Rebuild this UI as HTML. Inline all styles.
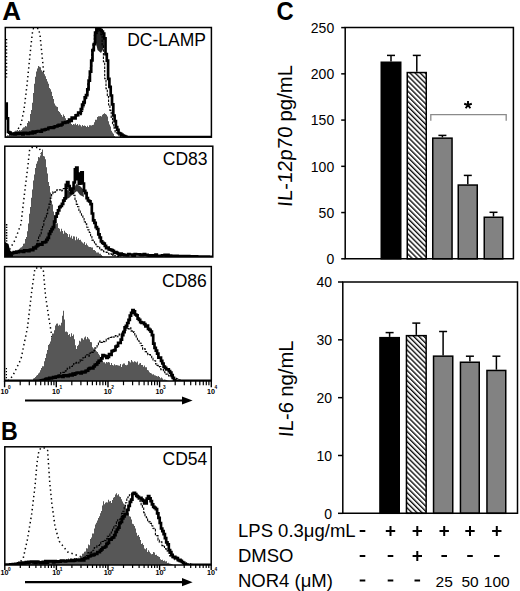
<!DOCTYPE html>
<html><head><meta charset="utf-8"><style>
html,body{margin:0;padding:0;background:#fff;width:520px;height:591px;overflow:hidden;position:relative;font-family:"Liberation Sans", sans-serif;}
</style></head><body>
<svg width="520" height="591" viewBox="0 0 520 591" style="position:absolute;left:0;top:0"><defs><pattern id="hatch" patternUnits="userSpaceOnUse" width="3.6" height="3.6" patternTransform="rotate(-45)"><rect width="3.6" height="3.6" fill="#fff"/><line x1="0.7" y1="0" x2="0.7" y2="3.6" stroke="#000" stroke-width="1.3"/></pattern></defs><clipPath id="ch1"><rect x="5.3" y="27.5" width="206.1" height="109.69999999999999"/></clipPath><g clip-path="url(#ch1)"><polyline points="12.0,135.0 17.0,131.0 21.0,124.0 24.0,110.0 27.0,85.0 29.0,65.0 31.0,45.0 32.5,32.0 33.5,28.5 38.5,28.5 40.0,35.0 42.0,55.0 44.0,75.0 46.0,92.0 49.0,108.0 53.0,120.0 58.0,129.0 66.0,134.0 80.0,137.1" fill="none" stroke="#000" stroke-width="1.5" stroke-dasharray="1.4 3.0"/><polygon points="5.3,137.1 5.0,136.8 6.0,136.8 6.0,136.3 7.0,136.3 7.0,135.3 8.0,135.3 8.0,135.5 9.0,135.5 9.0,133.5 10.0,133.5 10.0,135.3 11.0,135.3 11.0,134.4 12.0,134.4 12.0,134.3 13.0,134.3 13.0,132.1 14.0,132.1 14.0,131.5 15.0,131.5 15.0,130.8 16.0,130.8 16.0,130.7 17.0,130.7 17.0,129.9 18.0,129.9 18.0,131.1 19.0,131.1 19.0,129.9 20.0,129.9 20.0,130.5 21.0,130.5 21.0,129.9 22.0,129.9 22.0,128.4 23.0,128.4 23.0,127.4 24.0,127.4 24.0,127.3 25.0,127.3 25.0,125.9 26.0,125.9 26.0,126.5 27.0,126.5 27.0,123.1 28.0,123.1 28.0,120.9 29.0,120.9 29.0,121.6 30.0,121.6 30.0,114.1 31.0,114.1 31.0,109.9 32.0,109.9 32.0,102.7 33.0,102.7 33.0,92.9 34.0,92.9 34.0,83.7 35.0,83.7 35.0,76.8 36.0,76.8 36.0,71.5 37.0,71.5 37.0,68.4 38.0,68.4 38.0,65.9 39.0,65.9 39.0,66.7 40.0,66.7 40.0,67.2 41.0,67.2 41.0,70.2 42.0,70.2 42.0,71.8 43.0,71.8 43.0,72.0 44.0,72.0 44.0,74.2 45.0,74.2 45.0,76.3 46.0,76.3 46.0,78.9 47.0,78.9 47.0,81.4 48.0,81.4 48.0,83.8 49.0,83.8 49.0,88.1 50.0,88.1 50.0,89.2 51.0,89.2 51.0,91.7 52.0,91.7 52.0,95.9 53.0,95.9 53.0,98.9 54.0,98.9 54.0,103.6 55.0,103.6 55.0,105.6 56.0,105.6 56.0,106.4 57.0,106.4 57.0,107.0 58.0,107.0 58.0,111.0 59.0,111.0 59.0,111.9 60.0,111.9 60.0,113.4 61.0,113.4 61.0,115.0 62.0,115.0 62.0,116.7 63.0,116.7 63.0,114.5 64.0,114.5 64.0,116.1 65.0,116.1 65.0,118.3 66.0,118.3 66.0,120.2 67.0,120.2 67.0,120.3 68.0,120.3 68.0,121.0 69.0,121.0 69.0,120.9 70.0,120.9 70.0,121.3 71.0,121.3 71.0,124.1 72.0,124.1 72.0,125.1 73.0,125.1 73.0,124.1 74.0,124.1 74.0,124.4 75.0,124.4 75.0,123.4 76.0,123.4 76.0,125.1 77.0,125.1 77.0,124.0 78.0,124.0 78.0,125.4 79.0,125.4 79.0,124.5 80.0,124.5 80.0,125.2 81.0,125.2 81.0,126.6 82.0,126.6 82.0,125.1 83.0,125.1 83.0,125.9 84.0,125.9 84.0,125.4 85.0,125.4 85.0,125.9 86.0,125.9 86.0,126.9 87.0,126.9 87.0,125.7 88.0,125.7 88.0,127.0 89.0,127.0 89.0,125.2 90.0,125.2 90.0,125.2 91.0,125.2 91.0,125.6 92.0,125.6 92.0,125.1 93.0,125.1 93.0,124.8 94.0,124.8 94.0,122.2 95.0,122.2 95.0,119.8 96.0,119.8 96.0,119.8 97.0,119.8 97.0,117.0 98.0,117.0 98.0,116.3 99.0,116.3 99.0,116.3 100.0,116.3 100.0,116.1 101.0,116.1 101.0,116.4 102.0,116.4 102.0,114.8 103.0,114.8 103.0,114.1 104.0,114.1 104.0,113.3 105.0,113.3 105.0,113.9 106.0,113.9 106.0,114.8 107.0,114.8 107.0,116.4 108.0,116.4 108.0,121.2 109.0,121.2 109.0,124.5 110.0,124.5 110.0,126.6 111.0,126.6 111.0,130.8 112.0,130.8 112.0,132.4 113.0,132.4 113.0,133.8 114.0,133.8 114.0,136.1 115.0,136.1 115.0,137.1 116.0,137.1 116.0,137.1 117.0,137.1 117.0,137.1 118.0,137.1 118.0,137.1 119.0,137.1 119.0,137.1 120.0,137.1 120.0,137.1 121.0,137.1 121.0,137.1 122.0,137.1 122.0,137.1 123.0,137.1 123.0,137.1 124.0,137.1 124.0,137.1 125.0,137.1 125.0,137.1 126.0,137.1 126.0,137.1 127.0,137.1 127.0,137.1 128.0,137.1 128.0,137.1 129.0,137.1 129.0,137.1 130.0,137.1 130.0,137.1 131.0,137.1 131.0,137.1 132.0,137.1 132.0,137.1 133.0,137.1 133.0,137.1 134.0,137.1 134.0,137.1 135.0,137.1 135.0,137.1 136.0,137.1 136.0,137.1 137.0,137.1 137.0,137.1 138.0,137.1 138.0,137.1 139.0,137.1 139.0,137.1 140.0,137.1 140.0,137.1 141.0,137.1 141.0,137.1 142.0,137.1 142.0,137.1 143.0,137.1 143.0,137.1 144.0,137.1 144.0,137.1 145.0,137.1 145.0,137.1 146.0,137.1 146.0,137.1 147.0,137.1 147.0,137.1 148.0,137.1 148.0,137.1 149.0,137.1 149.0,137.1 150.0,137.1 150.0,137.1 151.0,137.1 151.0,137.1 152.0,137.1 152.0,137.1 153.0,137.1 153.0,137.1 154.0,137.1 154.0,137.1 155.0,137.1 155.0,137.1 156.0,137.1 156.0,137.1 157.0,137.1 157.0,137.1 158.0,137.1 158.0,137.1 159.0,137.1 159.0,137.1 160.0,137.1 160.0,137.1 161.0,137.1 161.0,137.1 162.0,137.1 162.0,137.1 163.0,137.1 163.0,137.1 164.0,137.1 164.0,137.1 165.0,137.1 165.0,137.1 166.0,137.1 166.0,137.1 167.0,137.1 167.0,137.1 168.0,137.1 168.0,137.1 169.0,137.1 169.0,137.1 170.0,137.1 170.0,137.1 171.0,137.1 171.0,137.1 172.0,137.1 172.0,137.1 173.0,137.1 173.0,137.1 174.0,137.1 174.0,137.1 175.0,137.1 175.0,137.1 176.0,137.1 176.0,137.1 177.0,137.1 177.0,137.1 178.0,137.1 178.0,137.1 179.0,137.1 179.0,137.1 180.0,137.1 180.0,137.1 181.0,137.1 181.0,137.1 182.0,137.1 182.0,137.1 183.0,137.1 183.0,137.1 184.0,137.1 184.0,137.1 185.0,137.1 185.0,137.1 186.0,137.1 186.0,137.1 187.0,137.1 187.0,137.1 188.0,137.1 188.0,137.1 189.0,137.1 189.0,137.1 190.0,137.1 190.0,137.1 191.0,137.1 191.0,137.1 192.0,137.1 192.0,137.1 193.0,137.1 193.0,137.1 194.0,137.1 194.0,137.1 195.0,137.1 195.0,137.1 196.0,137.1 196.0,137.1 197.0,137.1 197.0,137.1 198.0,137.1 198.0,137.1 199.0,137.1 199.0,137.1 200.0,137.1 200.0,137.1 201.0,137.1 201.0,137.1 202.0,137.1 202.0,137.1 203.0,137.1 203.0,137.1 204.0,137.1 204.0,137.1 205.0,137.1 205.0,137.1 206.0,137.1 206.0,137.1 207.0,137.1 207.0,137.1 208.0,137.1 208.0,137.1 209.0,137.1 209.0,137.1 210.0,137.1 210.0,137.1 211.0,137.1 211.0,137.1 212.0,137.1 212.0,137.1 213.0,137.1 211.4,137.1" fill="#575757"/><polyline points="80.0,114.6 81.3,114.6 81.3,111.4 82.6,111.4 82.6,107.8 83.9,107.8 83.9,103.6 85.2,103.6 85.2,98.6 86.5,98.6 86.5,94.1 87.8,94.1 87.8,83.9 89.1,83.9 89.1,76.9 90.4,76.9 90.4,66.3 91.7,66.3 91.7,50.1 93.0,50.1 93.0,43.4 94.3,43.4 94.3,35.3 95.6,35.3 95.6,33.8 96.9,33.8 96.9,31.1 98.2,31.1 98.2,30.7 99.5,30.7 99.5,30.8 100.8,30.8 100.8,34.6 102.1,34.6 102.1,45.8 103.4,45.8 103.4,61.8 104.7,61.8 104.7,78.8 106.0,78.8 106.0,88.8 107.3,88.8 107.3,96.6 108.6,96.6 108.6,105.0 109.9,105.0 109.9,110.4 111.2,110.4 111.2,118.3 112.5,118.3 112.5,123.8 113.8,123.8 113.8,127.9 115.1,127.9 115.1,132.8 116.4,132.8 116.4,133.0 117.7,133.0 117.7,134.2 119.0,134.2 119.0,136.5 120.3,136.5 120.3,137.1 121.6,137.1 121.6,137.1 122.9,137.1 122.9,137.1 124.2,137.1 124.2,137.1 125.5,137.1 125.5,137.1 126.8,137.1 126.8,137.1 128.1,137.1 128.1,137.1 129.4,137.1 129.4,137.1 130.7,137.1 130.7,137.1 132.0,137.1 132.0,137.1 133.3,137.1 133.3,137.1 134.6,137.1 134.6,137.1 135.9,137.1 135.9,137.1 137.2,137.1 137.2,137.1 138.5,137.1 138.5,137.1 139.8,137.1 139.8,137.1 141.1,137.1" fill="none" stroke="#000" stroke-width="1.1" stroke-dasharray="2.5 1.2"/><polyline points="5.4,103.5 6.7,103.5 6.7,118.4 8.0,118.4 8.0,132.0 9.3,132.0 9.3,132.7 10.6,132.7 10.6,134.2 11.9,134.2 11.9,134.2 13.2,134.2 13.2,133.6 14.5,133.6 14.5,134.3 15.8,134.3 15.8,133.4 17.1,133.4 17.1,134.0 18.4,134.0 18.4,133.3 19.7,133.3 19.7,133.2 21.0,133.2 21.0,133.7 22.3,133.7 22.3,134.3 23.6,134.3 23.6,132.9 24.9,132.9 24.9,132.9 26.2,132.9 26.2,133.5 27.5,133.5 27.5,134.0 28.8,134.0 28.8,133.2 30.1,133.2 30.1,132.7 31.4,132.7 31.4,133.5 32.7,133.5 32.7,131.7 34.0,131.7 34.0,132.9 35.3,132.9 35.3,131.7 36.6,131.7 36.6,131.3 37.9,131.3 37.9,131.0 39.2,131.0 39.2,131.2 40.5,131.2 40.5,131.6 41.8,131.6 41.8,129.9 43.1,129.9 43.1,130.1 44.4,130.1 44.4,129.7 45.7,129.7 45.7,129.0 47.0,129.0 47.0,129.1 48.3,129.1 48.3,127.9 49.6,127.9 49.6,127.6 50.9,127.6 50.9,127.4 52.2,127.4 52.2,128.0 53.5,128.0 53.5,127.1 54.8,127.1 54.8,126.4 56.1,126.4 56.1,126.5 57.4,126.5 57.4,125.7 58.7,125.7 58.7,124.8 60.0,124.8 60.0,125.4 61.3,125.4 61.3,124.5 62.6,124.5 62.6,122.7 63.9,122.7 63.9,122.9 65.2,122.9 65.2,122.1 66.5,122.1 66.5,122.4 67.8,122.4 67.8,121.4 69.1,121.4 69.1,119.5 70.4,119.5 70.4,120.8 71.7,120.8 71.7,117.7 73.0,117.7 73.0,117.9 74.3,117.9 74.3,118.3 75.6,118.3 75.6,115.3 76.9,115.3 76.9,115.2 78.2,115.2 78.2,112.7 79.5,112.7 79.5,113.0 80.8,113.0 80.8,109.2 82.1,109.2 82.1,104.6 83.4,104.6 83.4,102.2 84.7,102.2 84.7,97.3 86.0,97.3 86.0,95.2 87.3,95.2 87.3,89.3 88.6,89.3 88.6,80.7 89.9,80.7 89.9,71.7 91.2,71.7 91.2,60.5 92.5,60.5 92.5,50.1 93.8,50.1 93.8,44.1 95.1,44.1 95.1,32.7 96.4,32.7 96.4,27.2 97.7,27.2 97.7,29.1 99.0,29.1 99.0,28.9 100.3,28.9 100.3,30.0 101.6,30.0 101.6,31.5 102.9,31.5 102.9,33.5 104.2,33.5 104.2,38.4 105.5,38.4 105.5,54.1 106.8,54.1 106.8,60.6 108.1,60.6 108.1,78.9 109.4,78.9 109.4,86.8 110.7,86.8 110.7,95.5 112.0,95.5 112.0,104.4 113.3,104.4 113.3,115.5 114.6,115.5 114.6,121.2 115.9,121.2 115.9,127.0 117.2,127.0 117.2,129.8 118.5,129.8 118.5,133.1 119.8,133.1 119.8,133.5 121.1,133.5 121.1,134.7 122.4,134.7 122.4,135.5 123.7,135.5 123.7,136.1 125.0,136.1 125.0,136.7 126.3,136.7 126.3,137.1 127.6,137.1 127.6,137.1 128.9,137.1 128.9,137.1 130.2,137.1 130.2,137.1 131.5,137.1 131.5,137.1 132.8,137.1 132.8,137.1 134.1,137.1 134.1,137.1 135.4,137.1 135.4,137.1 136.7,137.1 136.7,137.1 138.0,137.1 138.0,137.1 139.3,137.1 139.3,137.1 140.6,137.1 140.6,137.1 141.9,137.1 141.9,137.1 143.2,137.1 143.2,137.1 144.5,137.1 144.5,137.1 145.8,137.1 145.8,137.1 147.1,137.1 147.1,137.1 148.4,137.1 148.4,137.1 149.7,137.1 149.7,137.1 151.0,137.1 151.0,137.1 152.3,137.1 152.3,137.1 153.6,137.1 153.6,137.1 154.9,137.1 154.9,137.1 156.2,137.1 156.2,137.1 157.5,137.1 157.5,137.1 158.8,137.1 158.8,137.1 160.1,137.1 160.1,137.1 161.4,137.1 161.4,137.1 162.7,137.1 162.7,137.1 164.0,137.1 164.0,137.1 165.3,137.1 165.3,137.1 166.6,137.1 166.6,137.1 167.9,137.1 167.9,137.1 169.2,137.1 169.2,137.1 170.5,137.1 170.5,137.1 171.8,137.1 171.8,137.1 173.1,137.1 173.1,137.1 174.4,137.1 174.4,137.1 175.7,137.1 175.7,137.1 177.0,137.1 177.0,137.1 178.3,137.1 178.3,137.1 179.6,137.1 179.6,137.1 180.9,137.1 180.9,137.1 182.2,137.1 182.2,137.1 183.5,137.1 183.5,137.1 184.8,137.1 184.8,137.1 186.1,137.1 186.1,137.1 187.4,137.1 187.4,137.1 188.7,137.1 188.7,137.1 190.0,137.1 190.0,137.1 191.3,137.1 191.3,137.1 192.6,137.1 192.6,137.1 193.9,137.1 193.9,137.1 195.2,137.1 195.2,137.1 196.5,137.1 196.5,137.1 197.8,137.1 197.8,137.1 199.1,137.1 199.1,137.1 200.4,137.1 200.4,137.1 201.7,137.1 201.7,137.1 203.0,137.1 203.0,137.1 204.3,137.1 204.3,137.1 205.6,137.1 205.6,137.1 206.9,137.1 206.9,137.1 208.2,137.1 208.2,137.1 209.5,137.1 209.5,137.1 210.8,137.1 210.8,137.1 212.1,137.1 212.1,137.1 213.4,137.1" fill="none" stroke="#000" stroke-width="2.7" stroke-linejoin="miter"/></g><rect x="5.3" y="27.5" width="206.1" height="109.69999999999999" fill="none" stroke="#000" stroke-width="1.5"/><text x='127.2' y='45.6' font-family='Liberation Sans, sans-serif' font-size='17.5' fill='#000'>DC-LAMP</text><clipPath id="ch2"><rect x="4.8" y="146.2" width="208.0" height="110.80000000000001"/></clipPath><g clip-path="url(#ch2)"><polyline points="7.0,253.0 9.5,249.8 15.0,240.0 21.0,224.0 25.4,186.0 28.0,165.0 29.6,150.0 31.7,147.5 39.0,147.5 41.0,152.0 44.0,170.0 48.0,200.0 52.0,225.0 56.0,240.0 62.0,250.0 72.0,254.0 90.0,256.9" fill="none" stroke="#000" stroke-width="1.5" stroke-dasharray="1.4 3.0"/><polygon points="4.8,256.9 5.0,256.7 6.0,256.7 6.0,256.3 7.0,256.3 7.0,255.9 8.0,255.9 8.0,254.4 9.0,254.4 9.0,255.3 10.0,255.3 10.0,255.8 11.0,255.8 11.0,253.9 12.0,253.9 12.0,253.9 13.0,253.9 13.0,253.1 14.0,253.1 14.0,253.6 15.0,253.6 15.0,253.1 16.0,253.1 16.0,252.4 17.0,252.4 17.0,252.6 18.0,252.6 18.0,250.8 19.0,250.8 19.0,248.8 20.0,248.8 20.0,247.7 21.0,247.7 21.0,247.2 22.0,247.2 22.0,246.3 23.0,246.3 23.0,243.7 24.0,243.7 24.0,243.5 25.0,243.5 25.0,239.0 26.0,239.0 26.0,237.1 27.0,237.1 27.0,231.2 28.0,231.2 28.0,223.5 29.0,223.5 29.0,213.8 30.0,213.8 30.0,206.9 31.0,206.9 31.0,197.7 32.0,197.7 32.0,189.6 33.0,189.6 33.0,180.6 34.0,180.6 34.0,174.6 35.0,174.6 35.0,168.0 36.0,168.0 36.0,163.8 37.0,163.8 37.0,161.3 38.0,161.3 38.0,157.0 39.0,157.0 39.0,157.5 40.0,157.5 40.0,155.4 41.0,155.4 41.0,152.1 42.0,152.1 42.0,149.6 43.0,149.6 43.0,156.1 44.0,156.1 44.0,156.5 45.0,156.5 45.0,159.2 46.0,159.2 46.0,167.2 47.0,167.2 47.0,173.6 48.0,173.6 48.0,182.1 49.0,182.1 49.0,186.0 50.0,186.0 50.0,192.4 51.0,192.4 51.0,200.7 52.0,200.7 52.0,204.4 53.0,204.4 53.0,211.6 54.0,211.6 54.0,215.6 55.0,215.6 55.0,220.8 56.0,220.8 56.0,223.5 57.0,223.5 57.0,223.2 58.0,223.2 58.0,228.0 59.0,228.0 59.0,228.8 60.0,228.8 60.0,231.4 61.0,231.4 61.0,228.7 62.0,228.7 62.0,230.9 63.0,230.9 63.0,233.8 64.0,233.8 64.0,230.8 65.0,230.8 65.0,232.5 66.0,232.5 66.0,233.1 67.0,233.1 67.0,233.9 68.0,233.9 68.0,237.0 69.0,237.0 69.0,234.3 70.0,234.3 70.0,237.4 71.0,237.4 71.0,235.8 72.0,235.8 72.0,238.7 73.0,238.7 73.0,236.2 74.0,236.2 74.0,236.4 75.0,236.4 75.0,240.2 76.0,240.2 76.0,236.8 77.0,236.8 77.0,239.6 78.0,239.6 78.0,238.3 79.0,238.3 79.0,240.1 80.0,240.1 80.0,239.7 81.0,239.7 81.0,241.6 82.0,241.6 82.0,242.5 83.0,242.5 83.0,243.4 84.0,243.4 84.0,242.1 85.0,242.1 85.0,244.9 86.0,244.9 86.0,243.6 87.0,243.6 87.0,245.3 88.0,245.3 88.0,246.4 89.0,246.4 89.0,247.0 90.0,247.0 90.0,247.0 91.0,247.0 91.0,247.6 92.0,247.6 92.0,247.4 93.0,247.4 93.0,249.9 94.0,249.9 94.0,249.9 95.0,249.9 95.0,251.1 96.0,251.1 96.0,252.4 97.0,252.4 97.0,252.6 98.0,252.6 98.0,252.4 99.0,252.4 99.0,253.7 100.0,253.7 100.0,253.8 101.0,253.8 101.0,254.9 102.0,254.9 102.0,256.2 103.0,256.2 103.0,256.9 104.0,256.9 104.0,256.9 105.0,256.9 105.0,256.9 106.0,256.9 106.0,256.9 107.0,256.9 107.0,256.9 108.0,256.9 108.0,256.9 109.0,256.9 109.0,256.9 110.0,256.9 110.0,256.9 111.0,256.9 111.0,256.9 112.0,256.9 112.0,256.9 113.0,256.9 113.0,256.9 114.0,256.9 114.0,256.9 115.0,256.9 115.0,256.9 116.0,256.9 116.0,256.9 117.0,256.9 117.0,256.9 118.0,256.9 118.0,256.9 119.0,256.9 119.0,256.9 120.0,256.9 120.0,256.9 121.0,256.9 121.0,256.9 122.0,256.9 122.0,256.9 123.0,256.9 123.0,256.9 124.0,256.9 124.0,256.9 125.0,256.9 125.0,256.9 126.0,256.9 126.0,256.9 127.0,256.9 127.0,256.9 128.0,256.9 128.0,256.9 129.0,256.9 129.0,256.9 130.0,256.9 130.0,256.9 131.0,256.9 131.0,256.9 132.0,256.9 132.0,256.9 133.0,256.9 133.0,256.9 134.0,256.9 134.0,256.9 135.0,256.9 135.0,256.9 136.0,256.9 136.0,256.9 137.0,256.9 137.0,256.9 138.0,256.9 138.0,256.9 139.0,256.9 139.0,256.9 140.0,256.9 140.0,256.9 141.0,256.9 141.0,256.9 142.0,256.9 142.0,256.9 143.0,256.9 143.0,256.9 144.0,256.9 144.0,256.9 145.0,256.9 145.0,256.9 146.0,256.9 146.0,256.9 147.0,256.9 147.0,256.9 148.0,256.9 148.0,256.9 149.0,256.9 149.0,256.9 150.0,256.9 150.0,256.9 151.0,256.9 151.0,256.9 152.0,256.9 152.0,256.9 153.0,256.9 153.0,256.9 154.0,256.9 154.0,256.9 155.0,256.9 155.0,256.9 156.0,256.9 156.0,256.9 157.0,256.9 157.0,256.9 158.0,256.9 158.0,256.9 159.0,256.9 159.0,256.9 160.0,256.9 160.0,256.9 161.0,256.9 161.0,256.9 162.0,256.9 162.0,256.9 163.0,256.9 163.0,256.9 164.0,256.9 164.0,256.9 165.0,256.9 165.0,256.9 166.0,256.9 166.0,256.9 167.0,256.9 167.0,256.9 168.0,256.9 168.0,256.9 169.0,256.9 169.0,256.9 170.0,256.9 170.0,256.9 171.0,256.9 171.0,256.9 172.0,256.9 172.0,256.9 173.0,256.9 173.0,256.9 174.0,256.9 174.0,256.9 175.0,256.9 175.0,256.9 176.0,256.9 176.0,256.9 177.0,256.9 177.0,256.9 178.0,256.9 178.0,256.9 179.0,256.9 179.0,256.9 180.0,256.9 180.0,256.9 181.0,256.9 181.0,256.9 182.0,256.9 182.0,256.9 183.0,256.9 183.0,256.9 184.0,256.9 184.0,256.9 185.0,256.9 185.0,256.9 186.0,256.9 186.0,256.9 187.0,256.9 187.0,256.9 188.0,256.9 188.0,256.9 189.0,256.9 189.0,256.9 190.0,256.9 190.0,256.9 191.0,256.9 191.0,256.9 192.0,256.9 192.0,256.9 193.0,256.9 193.0,256.9 194.0,256.9 194.0,256.9 195.0,256.9 195.0,256.9 196.0,256.9 196.0,256.9 197.0,256.9 197.0,256.9 198.0,256.9 198.0,256.9 199.0,256.9 199.0,256.9 200.0,256.9 200.0,256.9 201.0,256.9 201.0,256.9 202.0,256.9 202.0,256.9 203.0,256.9 203.0,256.9 204.0,256.9 204.0,256.9 205.0,256.9 205.0,256.9 206.0,256.9 206.0,256.9 207.0,256.9 207.0,256.9 208.0,256.9 208.0,256.9 209.0,256.9 209.0,256.9 210.0,256.9 210.0,256.9 211.0,256.9 211.0,256.9 212.0,256.9 212.0,256.9 213.0,256.9 213.0,256.9 214.0,256.9 212.8,256.9" fill="#575757"/><polyline points="36.0,243.9 37.3,243.9 37.3,240.6 38.6,240.6 38.6,237.1 39.9,237.1 39.9,233.8 41.2,233.8 41.2,229.7 42.5,229.7 42.5,226.5 43.8,226.5 43.8,220.7 45.1,220.7 45.1,217.1 46.4,217.1 46.4,213.6 47.7,213.6 47.7,208.2 49.0,208.2 49.0,204.1 50.3,204.1 50.3,198.0 51.6,198.0 51.6,194.6 52.9,194.6 52.9,191.8 54.2,191.8 54.2,192.1 55.5,192.1 55.5,191.7 56.8,191.7 56.8,189.9 58.1,189.9 58.1,190.0 59.4,190.0 59.4,189.8 60.7,189.8 60.7,191.0 62.0,191.0 62.0,190.3 63.3,190.3 63.3,188.5 64.6,188.5 64.6,189.7 65.9,189.7 65.9,187.8 67.2,187.8 67.2,188.8 68.5,188.8 68.5,189.0 69.8,189.0 69.8,190.0 71.1,190.0 71.1,193.4 72.4,193.4 72.4,193.1 73.7,193.1 73.7,195.2 75.0,195.2 75.0,200.8 76.3,200.8 76.3,204.4 77.6,204.4 77.6,206.8 78.9,206.8 78.9,211.1 80.2,211.1 80.2,212.8 81.5,212.8 81.5,215.7 82.8,215.7 82.8,217.3 84.1,217.3 84.1,221.8 85.4,221.8 85.4,223.9 86.7,223.9 86.7,227.3 88.0,227.3 88.0,230.0 89.3,230.0 89.3,232.5 90.6,232.5 90.6,236.6 91.9,236.6 91.9,240.1 93.2,240.1 93.2,241.8 94.5,241.8 94.5,243.0 95.8,243.0 95.8,244.8 97.1,244.8 97.1,246.7 98.4,246.7 98.4,247.0 99.7,247.0 99.7,249.4 101.0,249.4 101.0,249.9 102.3,249.9 102.3,250.5 103.6,250.5 103.6,251.8 104.9,251.8 104.9,252.0 106.2,252.0 106.2,252.4 107.5,252.4 107.5,253.3 108.8,253.3 108.8,254.2 110.1,254.2 110.1,253.7 111.4,253.7 111.4,255.4 112.7,255.4 112.7,254.4 114.0,254.4 114.0,255.8 115.3,255.8 115.3,255.8 116.6,255.8 116.6,256.1 117.9,256.1 117.9,256.5 119.2,256.5 119.2,256.9 120.5,256.9" fill="none" stroke="#000" stroke-width="1.1" stroke-dasharray="2.5 1.2"/><polyline points="6.0,250.7 7.3,250.7 7.3,252.5 8.6,252.5 8.6,254.1 9.9,254.1 9.9,252.9 11.2,252.9 11.2,253.5 12.5,253.5 12.5,252.9 13.8,252.9 13.8,252.1 15.1,252.1 15.1,252.7 16.4,252.7 16.4,251.6 17.7,251.6 17.7,252.1 19.0,252.1 19.0,251.2 20.3,251.2 20.3,251.0 21.6,251.0 21.6,251.4 22.9,251.4 22.9,251.9 24.2,251.9 24.2,250.4 25.5,250.4 25.5,250.3 26.8,250.3 26.8,250.8 28.1,250.8 28.1,251.1 29.4,251.1 29.4,250.2 30.7,250.2 30.7,249.7 32.0,249.7 32.0,250.1 33.3,250.1 33.3,247.6 34.6,247.6 34.6,248.4 35.9,248.4 35.9,246.5 37.2,246.5 37.2,245.4 38.5,245.4 38.5,244.5 39.8,244.5 39.8,244.1 41.1,244.1 41.1,244.6 42.4,244.6 42.4,242.3 43.7,242.3 43.7,242.5 45.0,242.5 45.0,241.9 46.3,241.9 46.3,239.8 47.6,239.8 47.6,237.8 48.9,237.8 48.9,233.8 50.2,233.8 50.2,231.3 51.5,231.3 51.5,229.2 52.8,229.2 52.8,227.2 54.1,227.2 54.1,221.7 55.4,221.7 55.4,216.7 56.7,216.7 56.7,213.3 58.0,213.3 58.0,210.3 59.3,210.3 59.3,207.2 60.6,207.2 60.6,206.0 61.9,206.0 61.9,203.8 63.2,203.8 63.2,200.6 64.5,200.6 64.5,198.3 65.8,198.3 65.8,184.8 67.1,184.8 67.1,182.1 68.4,182.1 68.4,186.2 69.7,186.2 69.7,190.0 71.0,190.0 71.0,193.2 72.3,193.2 72.3,188.5 73.6,188.5 73.6,182.5 74.9,182.5 74.9,169.4 76.2,169.4 76.2,167.5 77.5,167.5 77.5,179.2 78.8,179.2 78.8,183.6 80.1,183.6 80.1,173.6 81.4,173.6 81.4,172.4 82.7,172.4 82.7,183.5 84.0,183.5 84.0,190.9 85.3,190.9 85.3,193.2 86.6,193.2 86.6,198.2 87.9,198.2 87.9,200.5 89.2,200.5 89.2,201.3 90.5,201.3 90.5,204.2 91.8,204.2 91.8,213.5 93.1,213.5 93.1,220.4 94.4,220.4 94.4,222.8 95.7,222.8 95.7,227.2 97.0,227.2 97.0,229.0 98.3,229.0 98.3,234.3 99.6,234.3 99.6,237.5 100.9,237.5 100.9,241.3 102.2,241.3 102.2,242.8 103.5,242.8 103.5,243.6 104.8,243.6 104.8,245.9 106.1,245.9 106.1,248.2 107.4,248.2 107.4,247.7 108.7,247.7 108.7,249.3 110.0,249.3 110.0,249.6 111.3,249.6 111.3,250.2 112.6,250.2 112.6,250.9 113.9,250.9 113.9,252.8 115.2,252.8 115.2,252.1 116.5,252.1 116.5,252.8 117.8,252.8 117.8,253.6 119.1,253.6 119.1,255.0 120.4,255.0 120.4,253.7 121.7,253.7 121.7,254.4 123.0,254.4 123.0,254.6 124.3,254.6 124.3,255.2 125.6,255.2 125.6,255.1 126.9,255.1 126.9,255.3 128.2,255.3 128.2,254.2 129.5,254.2 129.5,254.5 130.8,254.5 130.8,254.5 132.1,254.5 132.1,255.4 133.4,255.4 133.4,255.6 134.7,255.6 134.7,254.2 136.0,254.2 136.0,254.3 137.3,254.3 137.3,254.4 138.6,254.4 138.6,254.4 139.9,254.4 139.9,254.9 141.2,254.9 141.2,255.1 142.5,255.1 142.5,254.6 143.8,254.6 143.8,254.2 145.1,254.2 145.1,254.9 146.4,254.9 146.4,254.9 147.7,254.9 147.7,255.3 149.0,255.3 149.0,256.0 150.3,256.0 150.3,255.6 151.6,255.6 151.6,255.3 152.9,255.3 152.9,255.5 154.2,255.5 154.2,255.6 155.5,255.6 155.5,254.6 156.8,254.6 156.8,256.1 158.1,256.1 158.1,255.9 159.4,255.9 159.4,256.1 160.7,256.1 160.7,256.0 162.0,256.0 162.0,255.3 163.3,255.3 163.3,255.4 164.6,255.4 164.6,254.9 165.9,254.9 165.9,255.9 167.2,255.9 167.2,254.9 168.5,254.9 168.5,255.7 169.8,255.7 169.8,255.7 171.1,255.7 171.1,255.8 172.4,255.8 172.4,255.8 173.7,255.8 173.7,255.8 175.0,255.8 175.0,255.9 176.3,255.9 176.3,255.9 177.6,255.9 177.6,256.0 178.9,256.0 178.9,256.0 180.2,256.0 180.2,256.0 181.5,256.0 181.5,256.1 182.8,256.1 182.8,256.1 184.1,256.1 184.1,256.1 185.4,256.1 185.4,256.2 186.7,256.2 186.7,256.2 188.0,256.2 188.0,256.2 189.3,256.2 189.3,256.3 190.6,256.3 190.6,256.3 191.9,256.3 191.9,256.3 193.2,256.3 193.2,256.4 194.5,256.4 194.5,256.4 195.8,256.4 195.8,256.4 197.1,256.4 197.1,256.5 198.4,256.5 198.4,256.5 199.7,256.5 199.7,256.5 201.0,256.5 201.0,256.6 202.3,256.6 202.3,256.6 203.6,256.6 203.6,256.6 204.9,256.6 204.9,256.7 206.2,256.7 206.2,256.7 207.5,256.7 207.5,256.7 208.8,256.7 208.8,256.8 210.1,256.8 210.1,256.8 211.4,256.8 211.4,256.9 212.7,256.9 212.7,256.9 214.0,256.9" fill="none" stroke="#000" stroke-width="2.7" stroke-linejoin="miter"/></g><rect x="4.8" y="146.2" width="208.0" height="110.80000000000001" fill="none" stroke="#000" stroke-width="1.5"/><text x='162.8' y='165.0' font-family='Liberation Sans, sans-serif' font-size='17.5' fill='#000'>CD83</text><clipPath id="ch3"><rect x="4.6" y="266.6" width="206.70000000000002" height="114.39999999999998"/></clipPath><g clip-path="url(#ch3)"><polyline points="8.0,380.9 12.7,376.0 21.0,359.0 27.5,327.5 31.7,291.5 35.0,268.0 42.0,268.0 43.4,271.0 45.5,295.7 48.7,317.0 51.8,336.0 55.0,350.0 60.0,365.0 70.0,375.0 85.0,380.9" fill="none" stroke="#000" stroke-width="1.5" stroke-dasharray="1.4 3.0"/><polygon points="4.6,380.9 5.0,380.9 6.0,380.9 6.0,380.9 7.0,380.9 7.0,380.9 8.0,380.9 8.0,380.9 9.0,380.9 9.0,380.9 10.0,380.9 10.0,380.9 11.0,380.9 11.0,380.9 12.0,380.9 12.0,380.9 13.0,380.9 13.0,380.9 14.0,380.9 14.0,380.9 15.0,380.9 15.0,380.9 16.0,380.9 16.0,380.9 17.0,380.9 17.0,380.9 18.0,380.9 18.0,380.9 19.0,380.9 19.0,380.9 20.0,380.9 20.0,380.9 21.0,380.9 21.0,380.9 22.0,380.9 22.0,380.9 23.0,380.9 23.0,380.9 24.0,380.9 24.0,380.9 25.0,380.9 25.0,380.9 26.0,380.9 26.0,380.9 27.0,380.9 27.0,380.9 28.0,380.9 28.0,380.9 29.0,380.9 29.0,380.9 30.0,380.9 30.0,380.9 31.0,380.9 31.0,380.9 32.0,380.9 32.0,380.0 33.0,380.0 33.0,378.4 34.0,378.4 34.0,377.9 35.0,377.9 35.0,377.0 36.0,377.0 36.0,375.7 37.0,375.7 37.0,374.9 38.0,374.9 38.0,373.6 39.0,373.6 39.0,372.6 40.0,372.6 40.0,370.2 41.0,370.2 41.0,367.9 42.0,367.9 42.0,366.3 43.0,366.3 43.0,366.2 44.0,366.2 44.0,361.2 45.0,361.2 45.0,357.9 46.0,357.9 46.0,353.8 47.0,353.8 47.0,349.9 48.0,349.9 48.0,345.0 49.0,345.0 49.0,343.8 50.0,343.8 50.0,341.6 51.0,341.6 51.0,337.6 52.0,337.6 52.0,333.6 53.0,333.6 53.0,333.4 54.0,333.4 54.0,330.2 55.0,330.2 55.0,325.5 56.0,325.5 56.0,323.8 57.0,323.8 57.0,323.5 58.0,323.5 58.0,325.8 59.0,325.8 59.0,324.8 60.0,324.8 60.0,325.4 61.0,325.4 61.0,322.7 62.0,322.7 62.0,315.7 63.0,315.7 63.0,310.7 64.0,310.7 64.0,319.4 65.0,319.4 65.0,331.8 66.0,331.8 66.0,331.6 67.0,331.6 67.0,332.3 68.0,332.3 68.0,335.1 69.0,335.1 69.0,334.0 70.0,334.0 70.0,336.7 71.0,336.7 71.0,333.2 72.0,333.2 72.0,336.0 73.0,336.0 73.0,334.6 74.0,334.6 74.0,339.3 75.0,339.3 75.0,345.2 76.0,345.2 76.0,349.0 77.0,349.0 77.0,345.9 78.0,345.9 78.0,344.7 79.0,344.7 79.0,340.8 80.0,340.8 80.0,341.4 81.0,341.4 81.0,338.3 82.0,338.3 82.0,338.6 83.0,338.6 83.0,339.7 84.0,339.7 84.0,337.6 85.0,337.6 85.0,336.4 86.0,336.4 86.0,339.3 87.0,339.3 87.0,337.0 88.0,337.0 88.0,338.5 89.0,338.5 89.0,339.5 90.0,339.5 90.0,341.9 91.0,341.9 91.0,342.3 92.0,342.3 92.0,347.3 93.0,347.3 93.0,348.5 94.0,348.5 94.0,348.9 95.0,348.9 95.0,349.4 96.0,349.4 96.0,351.2 97.0,351.2 97.0,352.1 98.0,352.1 98.0,353.8 99.0,353.8 99.0,355.3 100.0,355.3 100.0,357.4 101.0,357.4 101.0,356.1 102.0,356.1 102.0,360.9 103.0,360.9 103.0,362.2 104.0,362.2 104.0,362.2 105.0,362.2 105.0,363.6 106.0,363.6 106.0,362.0 107.0,362.0 107.0,362.6 108.0,362.6 108.0,362.1 109.0,362.1 109.0,362.5 110.0,362.5 110.0,364.9 111.0,364.9 111.0,363.1 112.0,363.1 112.0,365.0 113.0,365.0 113.0,365.4 114.0,365.4 114.0,364.2 115.0,364.2 115.0,365.3 116.0,365.3 116.0,365.1 117.0,365.1 117.0,365.3 118.0,365.3 118.0,365.4 119.0,365.4 119.0,365.7 120.0,365.7 120.0,364.1 121.0,364.1 121.0,367.1 122.0,367.1 122.0,364.4 123.0,364.4 123.0,363.6 124.0,363.6 124.0,363.5 125.0,363.5 125.0,365.1 126.0,365.1 126.0,365.2 127.0,365.2 127.0,364.8 128.0,364.8 128.0,361.0 129.0,361.0 129.0,361.5 130.0,361.5 130.0,362.4 131.0,362.4 131.0,359.9 132.0,359.9 132.0,361.4 133.0,361.4 133.0,362.2 134.0,362.2 134.0,361.3 135.0,361.3 135.0,361.7 136.0,361.7 136.0,362.6 137.0,362.6 137.0,361.6 138.0,361.6 138.0,364.7 139.0,364.7 139.0,363.5 140.0,363.5 140.0,363.1 141.0,363.1 141.0,364.9 142.0,364.9 142.0,365.1 143.0,365.1 143.0,366.8 144.0,366.8 144.0,365.5 145.0,365.5 145.0,367.2 146.0,367.2 146.0,367.2 147.0,367.2 147.0,369.9 148.0,369.9 148.0,370.5 149.0,370.5 149.0,372.3 150.0,372.3 150.0,372.9 151.0,372.9 151.0,373.6 152.0,373.6 152.0,374.5 153.0,374.5 153.0,374.3 154.0,374.3 154.0,375.3 155.0,375.3 155.0,375.4 156.0,375.4 156.0,376.0 157.0,376.0 157.0,376.4 158.0,376.4 158.0,375.9 159.0,375.9 159.0,376.9 160.0,376.9 160.0,378.2 161.0,378.2 161.0,377.5 162.0,377.5 162.0,378.4 163.0,378.4 163.0,379.8 164.0,379.8 164.0,379.4 165.0,379.4 165.0,379.8 166.0,379.8 166.0,380.1 167.0,380.1 167.0,380.5 168.0,380.5 168.0,380.8 169.0,380.8 169.0,380.9 170.0,380.9 170.0,380.9 171.0,380.9 171.0,380.9 172.0,380.9 172.0,380.9 173.0,380.9 173.0,380.9 174.0,380.9 174.0,380.9 175.0,380.9 175.0,380.9 176.0,380.9 176.0,380.9 177.0,380.9 177.0,380.9 178.0,380.9 178.0,380.9 179.0,380.9 179.0,380.9 180.0,380.9 180.0,380.9 181.0,380.9 181.0,380.9 182.0,380.9 182.0,380.9 183.0,380.9 183.0,380.9 184.0,380.9 184.0,380.9 185.0,380.9 185.0,380.9 186.0,380.9 186.0,380.9 187.0,380.9 187.0,380.9 188.0,380.9 188.0,380.9 189.0,380.9 189.0,380.9 190.0,380.9 190.0,380.9 191.0,380.9 191.0,380.9 192.0,380.9 192.0,380.9 193.0,380.9 193.0,380.9 194.0,380.9 194.0,380.9 195.0,380.9 195.0,380.9 196.0,380.9 196.0,380.9 197.0,380.9 197.0,380.9 198.0,380.9 198.0,380.9 199.0,380.9 199.0,380.9 200.0,380.9 200.0,380.9 201.0,380.9 201.0,380.9 202.0,380.9 202.0,380.9 203.0,380.9 203.0,380.9 204.0,380.9 204.0,380.9 205.0,380.9 205.0,380.9 206.0,380.9 206.0,380.9 207.0,380.9 207.0,380.9 208.0,380.9 208.0,380.9 209.0,380.9 209.0,380.9 210.0,380.9 210.0,380.9 211.0,380.9 211.0,380.9 212.0,380.9 212.0,380.9 213.0,380.9 211.3,380.9" fill="#575757"/><polyline points="52.9,377.8 54.2,377.8 54.2,377.2 55.5,377.2 55.5,376.6 56.8,376.6 56.8,376.1 58.1,376.1 58.1,375.0 59.4,375.0 59.4,374.6 60.7,374.6 60.7,372.5 62.0,372.5 62.0,372.4 63.3,372.4 63.3,372.4 64.6,372.4 64.6,371.1 65.9,371.1 65.9,370.6 67.2,370.6 67.2,368.3 68.5,368.3 68.5,368.1 69.8,368.1 69.8,366.8 71.1,366.8 71.1,366.5 72.4,366.5 72.4,365.7 73.7,365.7 73.7,363.6 75.0,363.6 75.0,363.1 76.3,363.1 76.3,362.4 77.6,362.4 77.6,363.0 78.9,363.0 78.9,361.8 80.2,361.8 80.2,359.5 81.5,359.5 81.5,360.2 82.8,360.2 82.8,357.7 84.1,357.7 84.1,358.0 85.4,358.0 85.4,356.0 86.7,356.0 86.7,354.8 88.0,354.8 88.0,356.1 89.3,356.1 89.3,353.2 90.6,353.2 90.6,351.9 91.9,351.9 91.9,352.4 93.2,352.4 93.2,350.9 94.5,350.9 94.5,348.1 95.8,348.1 95.8,347.7 97.1,347.7 97.1,344.7 98.4,344.7 98.4,343.0 99.7,343.0 99.7,341.0 101.0,341.0 101.0,342.4 102.3,342.4 102.3,341.3 103.6,341.3 103.6,341.6 104.9,341.6 104.9,341.0 106.2,341.0 106.2,339.2 107.5,339.2 107.5,338.9 108.8,338.9 108.8,338.0 110.1,338.0 110.1,337.5 111.4,337.5 111.4,336.8 112.7,336.8 112.7,337.0 114.0,337.0 114.0,337.3 115.3,337.3 115.3,335.5 116.6,335.5 116.6,336.7 117.9,336.7 117.9,335.2 119.2,335.2 119.2,334.1 120.5,334.1 120.5,334.3 121.8,334.3 121.8,332.4 123.1,332.4 123.1,331.0 124.4,331.0 124.4,330.4 125.7,330.4 125.7,329.9 127.0,329.9 127.0,327.3 128.3,327.3 128.3,328.9 129.6,328.9 129.6,327.9 130.9,327.9 130.9,330.9 132.2,330.9 132.2,332.5 133.5,332.5 133.5,331.8 134.8,331.8 134.8,335.4 136.1,335.4 136.1,337.0 137.4,337.0 137.4,340.2 138.7,340.2 138.7,341.3 140.0,341.3 140.0,343.3 141.3,343.3 141.3,345.6 142.6,345.6 142.6,349.3 143.9,349.3 143.9,348.9 145.2,348.9 145.2,351.6 146.5,351.6 146.5,353.3 147.8,353.3 147.8,354.7 149.1,354.7 149.1,354.6 150.4,354.6 150.4,356.3 151.7,356.3 151.7,358.4 153.0,358.4 153.0,360.7 154.3,360.7 154.3,360.8 155.6,360.8 155.6,364.0 156.9,364.0 156.9,365.4 158.2,365.4 158.2,366.9 159.5,366.9 159.5,366.5 160.8,366.5 160.8,369.6 162.1,369.6 162.1,369.4 163.4,369.4 163.4,371.2 164.7,371.2 164.7,372.7 166.0,372.7 166.0,374.1 167.3,374.1 167.3,374.2 168.6,374.2 168.6,375.9 169.9,375.9 169.9,376.3 171.2,376.3 171.2,376.9 172.5,376.9 172.5,377.8 173.8,377.8 173.8,378.0 175.1,378.0 175.1,378.3 176.4,378.3 176.4,378.8 177.7,378.8 177.7,379.7 179.0,379.7 179.0,380.1 180.3,380.1 180.3,380.6 181.6,380.6 181.6,380.9 182.9,380.9" fill="none" stroke="#000" stroke-width="1.1" stroke-dasharray="2.5 1.2"/><polyline points="5.0,380.9 6.3,380.9 6.3,380.9 7.6,380.9 7.6,380.9 8.9,380.9 8.9,380.9 10.2,380.9 10.2,380.9 11.5,380.9 11.5,380.9 12.8,380.9 12.8,380.9 14.1,380.9 14.1,380.9 15.4,380.9 15.4,380.9 16.7,380.9 16.7,380.9 18.0,380.9 18.0,380.9 19.3,380.9 19.3,380.9 20.6,380.9 20.6,380.9 21.9,380.9 21.9,380.9 23.2,380.9 23.2,380.9 24.5,380.9 24.5,380.9 25.8,380.9 25.8,380.9 27.1,380.9 27.1,380.9 28.4,380.9 28.4,380.9 29.7,380.9 29.7,380.9 31.0,380.9 31.0,380.9 32.3,380.9 32.3,380.9 33.6,380.9 33.6,380.9 34.9,380.9 34.9,380.9 36.2,380.9 36.2,380.9 37.5,380.9 37.5,380.9 38.8,380.9 38.8,380.9 40.1,380.9 40.1,380.7 41.4,380.7 41.4,380.4 42.7,380.4 42.7,380.1 44.0,380.1 44.0,379.9 45.3,379.9 45.3,379.2 46.6,379.2 46.6,378.6 47.9,378.6 47.9,379.2 49.2,379.2 49.2,377.9 50.5,377.9 50.5,378.5 51.8,378.5 51.8,377.9 53.1,377.9 53.1,377.1 54.4,377.1 54.4,377.6 55.7,377.6 55.7,376.6 57.0,376.6 57.0,377.0 58.3,377.0 58.3,376.2 59.6,376.2 59.6,376.0 60.9,376.0 60.9,376.3 62.2,376.3 62.2,376.8 63.5,376.8 63.5,375.3 64.8,375.3 64.8,375.3 66.1,375.3 66.1,375.8 67.4,375.8 67.4,376.1 68.7,376.1 68.7,375.2 70.0,375.2 70.0,374.6 71.3,374.6 71.3,375.4 72.6,375.4 72.6,373.5 73.9,373.5 73.9,374.7 75.2,374.7 75.2,373.4 76.5,373.4 76.5,372.9 77.8,372.9 77.8,372.5 79.1,372.5 79.1,372.6 80.4,372.6 80.4,373.3 81.7,373.3 81.7,371.8 83.0,371.8 83.0,372.4 84.3,372.4 84.3,372.1 85.6,372.1 85.6,370.9 86.9,370.9 86.9,370.6 88.2,370.6 88.2,368.8 89.5,368.8 89.5,368.1 90.8,368.1 90.8,367.8 92.1,367.8 92.1,368.3 93.4,368.3 93.4,366.5 94.7,366.5 94.7,364.9 96.0,364.9 96.0,364.3 97.3,364.3 97.3,362.6 98.6,362.6 98.6,360.9 99.9,360.9 99.9,360.5 101.2,360.5 101.2,358.3 102.5,358.3 102.5,355.0 103.8,355.0 103.8,355.6 105.1,355.6 105.1,356.2 106.4,356.2 106.4,357.9 107.7,357.9 107.7,356.8 109.0,356.8 109.0,354.2 110.3,354.2 110.3,355.0 111.6,355.0 111.6,351.1 112.9,351.1 112.9,350.7 114.2,350.7 114.2,350.1 115.5,350.1 115.5,346.6 116.8,346.6 116.8,345.9 118.1,345.9 118.1,342.8 119.4,342.8 119.4,343.0 120.7,343.0 120.7,339.6 122.0,339.6 122.0,335.1 123.3,335.1 123.3,332.1 124.6,332.1 124.6,327.3 125.9,327.3 125.9,325.9 127.2,325.9 127.2,323.0 128.5,323.0 128.5,319.9 129.8,319.9 129.8,315.6 131.1,315.6 131.1,312.9 132.4,312.9 132.4,310.0 133.7,310.0 133.7,311.3 135.0,311.3 135.0,314.5 136.3,314.5 136.3,315.3 137.6,315.3 137.6,318.6 138.9,318.6 138.9,319.8 140.2,319.8 140.2,322.1 141.5,322.1 141.5,322.8 142.8,322.8 142.8,322.5 144.1,322.5 144.1,324.1 145.4,324.1 145.4,326.3 146.7,326.3 146.7,325.7 148.0,325.7 148.0,328.8 149.3,328.8 149.3,329.8 150.6,329.8 150.6,331.6 151.9,331.6 151.9,335.2 153.2,335.2 153.2,343.7 154.5,343.7 154.5,347.8 155.8,347.8 155.8,350.7 157.1,350.7 157.1,353.6 158.4,353.6 158.4,357.6 159.7,357.6 159.7,357.6 161.0,357.6 161.0,360.9 162.3,360.9 162.3,363.5 163.6,363.5 163.6,366.6 164.9,366.6 164.9,367.9 166.2,367.9 166.2,369.3 167.5,369.3 167.5,369.3 168.8,369.3 168.8,371.1 170.1,371.1 170.1,372.6 171.4,372.6 171.4,375.1 172.7,375.1 172.7,377.9 174.0,377.9 174.0,380.1 175.3,380.1 175.3,380.9 176.6,380.9 176.6,380.9 177.9,380.9 177.9,380.9 179.2,380.9 179.2,380.9 180.5,380.9 180.5,380.9 181.8,380.9 181.8,380.9 183.1,380.9 183.1,380.9 184.4,380.9 184.4,380.9 185.7,380.9 185.7,380.9 187.0,380.9 187.0,380.9 188.3,380.9 188.3,380.9 189.6,380.9 189.6,380.9 190.9,380.9 190.9,380.9 192.2,380.9 192.2,380.9 193.5,380.9 193.5,380.9 194.8,380.9 194.8,380.9 196.1,380.9 196.1,380.9 197.4,380.9 197.4,380.9 198.7,380.9 198.7,380.9 200.0,380.9 200.0,380.9 201.3,380.9 201.3,380.9 202.6,380.9 202.6,380.9 203.9,380.9 203.9,380.9 205.2,380.9 205.2,380.9 206.5,380.9 206.5,380.9 207.8,380.9 207.8,380.9 209.1,380.9 209.1,380.9 210.4,380.9 210.4,380.9 211.7,380.9 211.7,380.9 213.0,380.9" fill="none" stroke="#000" stroke-width="2.7" stroke-linejoin="miter"/></g><rect x="4.6" y="266.6" width="206.70000000000002" height="114.39999999999998" fill="none" stroke="#000" stroke-width="1.5"/><text x='162.0' y='287.0' font-family='Liberation Sans, sans-serif' font-size='17.5' fill='#000'>CD86</text><clipPath id="ch4"><rect x="4.8" y="446.8" width="206.39999999999998" height="118.19999999999999"/></clipPath><g clip-path="url(#ch4)"><polyline points="18.0,564.9 23.3,558.0 27.5,539.0 31.7,513.8 35.0,486.3 37.0,463.0 39.0,450.3 41.0,448.0 44.4,448.0 47.6,450.3 49.7,482.0 51.8,503.0 55.0,526.5 59.2,541.3 67.7,552.0 76.2,555.0 85.0,558.0 95.0,560.0" fill="none" stroke="#000" stroke-width="1.5" stroke-dasharray="1.4 3.0"/><polygon points="4.8,564.9 5.0,564.9 6.0,564.9 6.0,564.8 7.0,564.8 7.0,564.7 8.0,564.7 8.0,564.6 9.0,564.6 9.0,564.6 10.0,564.6 10.0,564.5 11.0,564.5 11.0,564.4 12.0,564.4 12.0,564.3 13.0,564.3 13.0,564.2 14.0,564.2 14.0,564.2 15.0,564.2 15.0,564.1 16.0,564.1 16.0,564.0 17.0,564.0 17.0,563.9 18.0,563.9 18.0,563.9 19.0,563.9 19.0,563.8 20.0,563.8 20.0,563.7 21.0,563.7 21.0,564.5 22.0,564.5 22.0,563.6 23.0,563.6 23.0,562.5 24.0,562.5 24.0,562.5 25.0,562.5 25.0,562.9 26.0,562.9 26.0,564.1 27.0,564.1 27.0,564.2 28.0,564.2 28.0,562.7 29.0,562.7 29.0,562.9 30.0,562.9 30.0,562.8 31.0,562.8 31.0,563.9 32.0,563.9 32.0,562.7 33.0,562.7 33.0,562.3 34.0,562.3 34.0,562.6 35.0,562.6 35.0,561.4 36.0,561.4 36.0,562.5 37.0,562.5 37.0,561.5 38.0,561.5 38.0,563.1 39.0,563.1 39.0,562.1 40.0,562.1 40.0,563.3 41.0,563.3 41.0,561.9 42.0,561.9 42.0,561.5 43.0,561.5 43.0,563.1 44.0,563.1 44.0,562.8 45.0,562.8 45.0,560.6 46.0,560.6 46.0,562.9 47.0,562.9 47.0,562.5 48.0,562.5 48.0,562.6 49.0,562.6 49.0,561.6 50.0,561.6 50.0,562.0 51.0,562.0 51.0,561.8 52.0,561.8 52.0,560.8 53.0,560.8 53.0,560.0 54.0,560.0 54.0,561.5 55.0,561.5 55.0,562.1 56.0,562.1 56.0,560.0 57.0,560.0 57.0,561.3 58.0,561.3 58.0,560.8 59.0,560.8 59.0,560.5 60.0,560.5 60.0,561.1 61.0,561.1 61.0,560.8 62.0,560.8 62.0,561.1 63.0,561.1 63.0,560.2 64.0,560.2 64.0,560.2 65.0,560.2 65.0,560.4 66.0,560.4 66.0,559.3 67.0,559.3 67.0,560.8 68.0,560.8 68.0,558.6 69.0,558.6 69.0,560.3 70.0,560.3 70.0,558.5 71.0,558.5 71.0,558.4 72.0,558.4 72.0,560.3 73.0,560.3 73.0,559.3 74.0,559.3 74.0,558.3 75.0,558.3 75.0,559.1 76.0,559.1 76.0,558.0 77.0,558.0 77.0,558.9 78.0,558.9 78.0,557.8 79.0,557.8 79.0,557.8 80.0,557.8 80.0,556.4 81.0,556.4 81.0,556.2 82.0,556.2 82.0,553.8 83.0,553.8 83.0,553.5 84.0,553.5 84.0,551.8 85.0,551.8 85.0,551.4 86.0,551.4 86.0,548.2 87.0,548.2 87.0,548.5 88.0,548.5 88.0,544.5 89.0,544.5 89.0,545.2 90.0,545.2 90.0,539.0 91.0,539.0 91.0,537.6 92.0,537.6 92.0,533.4 93.0,533.4 93.0,533.5 94.0,533.5 94.0,528.6 95.0,528.6 95.0,524.4 96.0,524.4 96.0,522.7 97.0,522.7 97.0,520.4 98.0,520.4 98.0,518.0 99.0,518.0 99.0,516.2 100.0,516.2 100.0,513.2 101.0,513.2 101.0,511.0 102.0,511.0 102.0,505.4 103.0,505.4 103.0,501.3 104.0,501.3 104.0,504.3 105.0,504.3 105.0,502.7 106.0,502.7 106.0,502.3 107.0,502.3 107.0,502.5 108.0,502.5 108.0,499.8 109.0,499.8 109.0,501.6 110.0,501.6 110.0,501.0 111.0,501.0 111.0,502.9 112.0,502.9 112.0,500.1 113.0,500.1 113.0,497.8 114.0,497.8 114.0,497.1 115.0,497.1 115.0,494.6 116.0,494.6 116.0,493.2 117.0,493.2 117.0,495.2 118.0,495.2 118.0,494.3 119.0,494.3 119.0,496.5 120.0,496.5 120.0,497.1 121.0,497.1 121.0,499.2 122.0,499.2 122.0,501.6 123.0,501.6 123.0,503.4 124.0,503.4 124.0,504.5 125.0,504.5 125.0,506.5 126.0,506.5 126.0,509.8 127.0,509.8 127.0,511.7 128.0,511.7 128.0,512.8 129.0,512.8 129.0,516.2 130.0,516.2 130.0,516.8 131.0,516.8 131.0,519.5 132.0,519.5 132.0,523.8 133.0,523.8 133.0,524.3 134.0,524.3 134.0,526.0 135.0,526.0 135.0,528.6 136.0,528.6 136.0,532.7 137.0,532.7 137.0,535.7 138.0,535.7 138.0,535.0 139.0,535.0 139.0,537.0 140.0,537.0 140.0,540.1 141.0,540.1 141.0,544.1 142.0,544.1 142.0,543.2 143.0,543.2 143.0,544.9 144.0,544.9 144.0,548.6 145.0,548.6 145.0,549.3 146.0,549.3 146.0,547.9 147.0,547.9 147.0,551.9 148.0,551.9 148.0,550.2 149.0,550.2 149.0,551.7 150.0,551.7 150.0,553.2 151.0,553.2 151.0,554.2 152.0,554.2 152.0,554.1 153.0,554.1 153.0,551.9 154.0,551.9 154.0,552.5 155.0,552.5 155.0,554.9 156.0,554.9 156.0,554.7 157.0,554.7 157.0,556.1 158.0,556.1 158.0,556.5 159.0,556.5 159.0,557.1 160.0,557.1 160.0,559.3 161.0,559.3 161.0,559.9 162.0,559.9 162.0,559.8 163.0,559.8 163.0,561.0 164.0,561.0 164.0,560.5 165.0,560.5 165.0,561.5 166.0,561.5 166.0,561.3 167.0,561.3 167.0,562.9 168.0,562.9 168.0,562.7 169.0,562.7 169.0,563.5 170.0,563.5 170.0,563.7 171.0,563.7 171.0,564.0 172.0,564.0 172.0,564.6 173.0,564.6 173.0,564.9 174.0,564.9 174.0,564.9 175.0,564.9 175.0,564.9 176.0,564.9 176.0,564.9 177.0,564.9 177.0,564.9 178.0,564.9 178.0,564.9 179.0,564.9 179.0,564.9 180.0,564.9 180.0,564.9 181.0,564.9 181.0,564.9 182.0,564.9 182.0,564.9 183.0,564.9 183.0,564.9 184.0,564.9 184.0,564.9 185.0,564.9 185.0,564.9 186.0,564.9 186.0,564.9 187.0,564.9 187.0,564.9 188.0,564.9 188.0,564.9 189.0,564.9 189.0,564.9 190.0,564.9 190.0,564.9 191.0,564.9 191.0,564.9 192.0,564.9 192.0,564.9 193.0,564.9 193.0,564.9 194.0,564.9 194.0,564.9 195.0,564.9 195.0,564.9 196.0,564.9 196.0,564.9 197.0,564.9 197.0,564.9 198.0,564.9 198.0,564.9 199.0,564.9 199.0,564.9 200.0,564.9 200.0,564.9 201.0,564.9 201.0,564.9 202.0,564.9 202.0,564.9 203.0,564.9 203.0,564.9 204.0,564.9 204.0,564.9 205.0,564.9 205.0,564.9 206.0,564.9 206.0,564.9 207.0,564.9 207.0,564.9 208.0,564.9 208.0,564.9 209.0,564.9 209.0,564.9 210.0,564.9 210.0,564.9 211.0,564.9 211.0,564.9 212.0,564.9 212.0,564.9 213.0,564.9 211.2,564.9" fill="#575757"/><polyline points="80.0,560.6 81.3,560.6 81.3,559.7 82.6,559.7 82.6,558.6 83.9,558.6 83.9,557.7 85.2,557.7 85.2,556.3 86.5,556.3 86.5,555.6 87.8,555.6 87.8,552.9 89.1,552.9 89.1,552.5 90.4,552.5 90.4,552.4 91.7,552.4 91.7,550.7 93.0,550.7 93.0,550.2 94.3,550.2 94.3,547.5 95.6,547.5 95.6,547.3 96.9,547.3 96.9,545.8 98.2,545.8 98.2,545.5 99.5,545.5 99.5,544.6 100.8,544.6 100.8,542.3 102.1,542.3 102.1,541.5 103.4,541.5 103.4,540.4 104.7,540.4 104.7,540.6 106.0,540.6 106.0,538.9 107.3,538.9 107.3,536.2 108.6,536.2 108.6,536.5 109.9,536.5 109.9,533.2 111.2,533.2 111.2,532.0 112.5,532.0 112.5,528.5 113.8,528.5 113.8,525.9 115.1,525.9 115.1,525.7 116.4,525.7 116.4,521.9 117.7,521.9 117.7,519.8 119.0,519.8 119.0,519.4 120.3,519.4 120.3,517.0 121.6,517.0 121.6,513.4 122.9,513.4 122.9,511.2 124.2,511.2 124.2,506.3 125.5,506.3 125.5,502.8 126.8,502.8 126.8,497.8 128.1,497.8 128.1,495.8 129.4,495.8 129.4,494.8 130.7,494.8 130.7,495.0 132.0,495.0 132.0,494.4 133.3,494.4 133.3,492.6 134.6,492.6 134.6,492.8 135.9,492.8 135.9,494.4 137.2,494.4 137.2,496.5 138.5,496.5 138.5,498.4 139.8,498.4 139.8,501.1 141.1,501.1 141.1,504.6 142.4,504.6 142.4,507.1 143.7,507.1 143.7,512.6 145.0,512.6 145.0,515.7 146.3,515.7 146.3,517.6 147.6,517.6 147.6,520.7 148.9,520.7 148.9,521.9 150.2,521.9 150.2,523.4 151.5,523.4 151.5,525.8 152.8,525.8 152.8,528.3 154.1,528.3 154.1,529.4 155.4,529.4 155.4,534.7 156.7,534.7 156.7,535.6 158.0,535.6 158.0,540.1 159.3,540.1 159.3,542.1 160.6,542.1 160.6,541.9 161.9,541.9 161.9,545.6 163.2,545.6 163.2,546.4 164.5,546.4 164.5,548.6 165.8,548.6 165.8,549.1 167.1,549.1 167.1,550.9 168.4,550.9 168.4,552.9 169.7,552.9 169.7,555.9 171.0,555.9 171.0,556.0 172.3,556.0 172.3,557.7 173.6,557.7 173.6,558.8 174.9,558.8 174.9,559.7 176.2,559.7 176.2,559.7 177.5,559.7 177.5,560.6 178.8,560.6 178.8,561.7 180.1,561.7 180.1,562.5 181.4,562.5 181.4,561.8 182.7,561.8 182.7,563.0 184.0,563.0 184.0,563.3 185.3,563.3 185.3,563.7 186.6,563.7 186.6,562.7 187.9,562.7 187.9,564.3 189.2,564.3 189.2,563.9 190.5,563.9 190.5,564.2 191.8,564.2 191.8,564.4 193.1,564.4 193.1,564.7 194.4,564.7 194.4,564.9 195.7,564.9" fill="none" stroke="#000" stroke-width="1.1" stroke-dasharray="2.5 1.2"/><polyline points="5.0,564.8 6.3,564.8 6.3,564.7 7.6,564.7 7.6,564.6 8.9,564.6 8.9,564.5 10.2,564.5 10.2,564.4 11.5,564.4 11.5,564.3 12.8,564.3 12.8,564.1 14.1,564.1 14.1,564.0 15.4,564.0 15.4,563.9 16.7,563.9 16.7,563.8 18.0,563.8 18.0,563.4 19.3,563.4 19.3,562.9 20.6,562.9 20.6,563.7 21.9,563.7 21.9,562.6 23.2,562.6 23.2,563.3 24.5,563.3 24.5,562.8 25.8,562.8 25.8,562.2 27.1,562.2 27.1,562.9 28.4,562.9 28.4,561.9 29.7,561.9 29.7,562.5 31.0,562.5 31.0,561.7 32.3,561.7 32.3,561.7 33.6,561.7 33.6,562.3 34.9,562.3 34.9,563.0 36.2,563.0 36.2,561.6 37.5,561.6 37.5,561.8 38.8,561.8 38.8,562.5 40.1,562.5 40.1,563.0 41.4,563.0 41.4,562.3 42.7,562.3 42.7,561.9 44.0,561.9 44.0,562.9 45.3,562.9 45.3,561.2 46.6,561.2 46.6,562.6 47.9,562.6 47.9,561.5 49.2,561.5 49.2,561.2 50.5,561.2 50.5,561.1 51.8,561.1 51.8,561.4 53.1,561.4 53.1,562.3 54.4,562.3 54.4,561.1 55.7,561.1 55.7,561.8 57.0,561.8 57.0,561.9 58.3,561.9 58.3,561.3 59.6,561.3 59.6,561.6 60.9,561.6 60.9,560.7 62.2,560.7 62.2,560.6 63.5,560.6 63.5,560.8 64.8,560.8 64.8,561.5 66.1,561.5 66.1,560.9 67.4,560.9 67.4,560.6 68.7,560.6 68.7,561.0 70.0,561.0 70.0,560.6 71.3,560.6 71.3,560.2 72.6,560.2 72.6,561.0 73.9,561.0 73.9,560.7 75.2,560.7 75.2,559.7 76.5,559.7 76.5,560.2 77.8,560.2 77.8,560.0 79.1,560.0 79.1,560.5 80.4,560.5 80.4,560.1 81.7,560.1 81.7,559.1 83.0,559.1 83.0,560.3 84.3,560.3 84.3,558.4 85.6,558.4 85.6,558.2 86.9,558.2 86.9,558.1 88.2,558.1 88.2,556.3 89.5,556.3 89.5,556.2 90.8,556.2 90.8,554.7 92.1,554.7 92.1,555.3 93.4,555.3 93.4,554.9 94.7,554.9 94.7,553.9 96.0,553.9 96.0,554.0 97.3,554.0 97.3,552.1 98.6,552.1 98.6,552.2 99.9,552.2 99.9,550.7 101.2,550.7 101.2,549.3 102.5,549.3 102.5,547.7 103.8,547.7 103.8,547.5 105.1,547.5 105.1,546.5 106.4,546.5 106.4,543.8 107.7,543.8 107.7,542.8 109.0,542.8 109.0,539.4 110.3,539.4 110.3,539.7 111.6,539.7 111.6,537.9 112.9,537.9 112.9,537.3 114.2,537.3 114.2,535.2 115.5,535.2 115.5,531.8 116.8,531.8 116.8,529.5 118.1,529.5 118.1,527.7 119.4,527.7 119.4,523.1 120.7,523.1 120.7,521.8 122.0,521.8 122.0,518.5 123.3,518.5 123.3,516.3 124.6,516.3 124.6,514.1 125.9,514.1 125.9,514.1 127.2,514.1 127.2,509.8 128.5,509.8 128.5,505.8 129.8,505.8 129.8,501.8 131.1,501.8 131.1,499.7 132.4,499.7 132.4,493.9 133.7,493.9 133.7,492.8 135.0,492.8 135.0,494.0 136.3,494.0 136.3,495.8 137.6,495.8 137.6,496.9 138.9,496.9 138.9,498.3 140.2,498.3 140.2,497.9 141.5,497.9 141.5,499.5 142.8,499.5 142.8,500.6 144.1,500.6 144.1,503.4 145.4,503.4 145.4,503.5 146.7,503.5 146.7,498.6 148.0,498.6 148.0,496.2 149.3,496.2 149.3,498.4 150.6,498.4 150.6,501.1 151.9,501.1 151.9,504.4 153.2,504.4 153.2,506.9 154.5,506.9 154.5,507.9 155.8,507.9 155.8,509.1 157.1,509.1 157.1,513.4 158.4,513.4 158.4,517.8 159.7,517.8 159.7,523.0 161.0,523.0 161.0,528.5 162.3,528.5 162.3,531.2 163.6,531.2 163.6,534.1 164.9,534.1 164.9,538.2 166.2,538.2 166.2,542.3 167.5,542.3 167.5,544.4 168.8,544.4 168.8,550.1 170.1,550.1 170.1,552.2 171.4,552.2 171.4,554.9 172.7,554.9 172.7,556.8 174.0,556.8 174.0,556.9 175.3,556.9 175.3,557.8 176.6,557.8 176.6,558.2 177.9,558.2 177.9,560.1 179.2,560.1 179.2,559.9 180.5,559.9 180.5,560.9 181.8,560.9 181.8,562.0 183.1,562.0 183.1,562.9 184.4,562.9 184.4,564.4 185.7,564.4 185.7,564.9 187.0,564.9 187.0,564.9 188.3,564.9 188.3,564.9 189.6,564.9 189.6,564.9 190.9,564.9 190.9,564.9 192.2,564.9 192.2,564.9 193.5,564.9 193.5,564.9 194.8,564.9 194.8,564.9 196.1,564.9 196.1,564.9 197.4,564.9 197.4,564.9 198.7,564.9 198.7,564.9 200.0,564.9 200.0,564.9 201.3,564.9 201.3,564.9 202.6,564.9 202.6,564.9 203.9,564.9 203.9,564.9 205.2,564.9 205.2,564.9 206.5,564.9 206.5,564.9 207.8,564.9 207.8,564.9 209.1,564.9 209.1,564.9 210.4,564.9 210.4,564.9 211.7,564.9 211.7,564.9 213.0,564.9" fill="none" stroke="#000" stroke-width="2.7" stroke-linejoin="miter"/></g><rect x="4.8" y="446.8" width="206.39999999999998" height="118.19999999999999" fill="none" stroke="#000" stroke-width="1.5"/><text x='162.6' y='465.4' font-family='Liberation Sans, sans-serif' font-size='17.5' fill='#000'>CD54</text><polygon points="96,30 102.5,30 104.3,38 104.3,47 101,53 97.5,50 95.8,42" fill="#000" opacity="0.85"/><polygon points="64,200 66,189 70,192 74,189 76,184 80,186 83,189 84,197 80,195 77,191 73,194 69,198" fill="#000" opacity="0.8"/><line x1="6.6" y1="39" x2="6.6" y2="79" stroke="#000" stroke-width="1.3" stroke-dasharray="1.2 2.2"/><line x1="6.6" y1="224" x2="6.6" y2="243" stroke="#000" stroke-width="1.5" stroke-dasharray="1.4 1.3"/><polygon points="5,242 8.5,244 10,250 13,255 13,257 5,257" fill="#000"/><line x1="6.4" y1="368" x2="6.4" y2="380" stroke="#000" stroke-width="1.2" stroke-dasharray="1.2 1.8"/><line x1="4.6" y1="381.0" x2="4.6" y2="387.3" stroke="#000" stroke-width="1.4"/><text x='0.4' y='393.9' font-family='Liberation Sans, sans-serif' font-weight='bold' font-size='7.2' fill='#000'>10</text><text x='7.9' y='389.09999999999997' font-family='Liberation Sans, sans-serif' font-weight='bold' font-size='4.8' fill='#000'>0</text><line x1="20.2" y1="381.0" x2="20.2" y2="385.2" stroke="#000" stroke-width="1.2"/><line x1="29.3" y1="381.0" x2="29.3" y2="385.2" stroke="#000" stroke-width="1.2"/><line x1="35.7" y1="381.0" x2="35.7" y2="385.2" stroke="#000" stroke-width="1.2"/><line x1="40.7" y1="381.0" x2="40.7" y2="385.2" stroke="#000" stroke-width="1.2"/><line x1="44.8" y1="381.0" x2="44.8" y2="385.2" stroke="#000" stroke-width="1.2"/><line x1="48.3" y1="381.0" x2="48.3" y2="385.2" stroke="#000" stroke-width="1.2"/><line x1="51.3" y1="381.0" x2="51.3" y2="385.2" stroke="#000" stroke-width="1.2"/><line x1="53.9" y1="381.0" x2="53.9" y2="385.2" stroke="#000" stroke-width="1.2"/><line x1="56.3" y1="381.0" x2="56.3" y2="387.3" stroke="#000" stroke-width="1.4"/><text x='52.1' y='393.9' font-family='Liberation Sans, sans-serif' font-weight='bold' font-size='7.2' fill='#000'>10</text><text x='59.6' y='389.09999999999997' font-family='Liberation Sans, sans-serif' font-weight='bold' font-size='4.8' fill='#000'>1</text><line x1="71.8" y1="381.0" x2="71.8" y2="385.2" stroke="#000" stroke-width="1.2"/><line x1="80.9" y1="381.0" x2="80.9" y2="385.2" stroke="#000" stroke-width="1.2"/><line x1="87.4" y1="381.0" x2="87.4" y2="385.2" stroke="#000" stroke-width="1.2"/><line x1="92.4" y1="381.0" x2="92.4" y2="385.2" stroke="#000" stroke-width="1.2"/><line x1="96.5" y1="381.0" x2="96.5" y2="385.2" stroke="#000" stroke-width="1.2"/><line x1="99.9" y1="381.0" x2="99.9" y2="385.2" stroke="#000" stroke-width="1.2"/><line x1="102.9" y1="381.0" x2="102.9" y2="385.2" stroke="#000" stroke-width="1.2"/><line x1="105.6" y1="381.0" x2="105.6" y2="385.2" stroke="#000" stroke-width="1.2"/><line x1="108.0" y1="381.0" x2="108.0" y2="387.3" stroke="#000" stroke-width="1.4"/><text x='103.8' y='393.9' font-family='Liberation Sans, sans-serif' font-weight='bold' font-size='7.2' fill='#000'>10</text><text x='111.2' y='389.09999999999997' font-family='Liberation Sans, sans-serif' font-weight='bold' font-size='4.8' fill='#000'>2</text><line x1="123.5" y1="381.0" x2="123.5" y2="385.2" stroke="#000" stroke-width="1.2"/><line x1="132.6" y1="381.0" x2="132.6" y2="385.2" stroke="#000" stroke-width="1.2"/><line x1="139.1" y1="381.0" x2="139.1" y2="385.2" stroke="#000" stroke-width="1.2"/><line x1="144.1" y1="381.0" x2="144.1" y2="385.2" stroke="#000" stroke-width="1.2"/><line x1="148.2" y1="381.0" x2="148.2" y2="385.2" stroke="#000" stroke-width="1.2"/><line x1="151.6" y1="381.0" x2="151.6" y2="385.2" stroke="#000" stroke-width="1.2"/><line x1="154.6" y1="381.0" x2="154.6" y2="385.2" stroke="#000" stroke-width="1.2"/><line x1="157.3" y1="381.0" x2="157.3" y2="385.2" stroke="#000" stroke-width="1.2"/><line x1="159.6" y1="381.0" x2="159.6" y2="387.3" stroke="#000" stroke-width="1.4"/><text x='155.4' y='393.9' font-family='Liberation Sans, sans-serif' font-weight='bold' font-size='7.2' fill='#000'>10</text><text x='162.9' y='389.09999999999997' font-family='Liberation Sans, sans-serif' font-weight='bold' font-size='4.8' fill='#000'>3</text><line x1="175.2" y1="381.0" x2="175.2" y2="385.2" stroke="#000" stroke-width="1.2"/><line x1="184.3" y1="381.0" x2="184.3" y2="385.2" stroke="#000" stroke-width="1.2"/><line x1="190.7" y1="381.0" x2="190.7" y2="385.2" stroke="#000" stroke-width="1.2"/><line x1="195.7" y1="381.0" x2="195.7" y2="385.2" stroke="#000" stroke-width="1.2"/><line x1="199.8" y1="381.0" x2="199.8" y2="385.2" stroke="#000" stroke-width="1.2"/><line x1="203.3" y1="381.0" x2="203.3" y2="385.2" stroke="#000" stroke-width="1.2"/><line x1="206.3" y1="381.0" x2="206.3" y2="385.2" stroke="#000" stroke-width="1.2"/><line x1="208.9" y1="381.0" x2="208.9" y2="385.2" stroke="#000" stroke-width="1.2"/><line x1="211.3" y1="381.0" x2="211.3" y2="387.3" stroke="#000" stroke-width="1.4"/><text x='207.1' y='393.9' font-family='Liberation Sans, sans-serif' font-weight='bold' font-size='7.2' fill='#000'>10</text><text x='214.6' y='389.09999999999997' font-family='Liberation Sans, sans-serif' font-weight='bold' font-size='4.8' fill='#000'>4</text><line x1="4.8" y1="565.0" x2="4.8" y2="570.0" stroke="#000" stroke-width="1.4"/><text x='0.6' y='575.3' font-family='Liberation Sans, sans-serif' font-weight='bold' font-size='7.2' fill='#000'>10</text><text x='8.1' y='570.5' font-family='Liberation Sans, sans-serif' font-weight='bold' font-size='4.8' fill='#000'>0</text><line x1="20.3" y1="565.0" x2="20.3" y2="568.0" stroke="#000" stroke-width="1.2"/><line x1="29.4" y1="565.0" x2="29.4" y2="568.0" stroke="#000" stroke-width="1.2"/><line x1="35.9" y1="565.0" x2="35.9" y2="568.0" stroke="#000" stroke-width="1.2"/><line x1="40.9" y1="565.0" x2="40.9" y2="568.0" stroke="#000" stroke-width="1.2"/><line x1="45.0" y1="565.0" x2="45.0" y2="568.0" stroke="#000" stroke-width="1.2"/><line x1="48.4" y1="565.0" x2="48.4" y2="568.0" stroke="#000" stroke-width="1.2"/><line x1="51.4" y1="565.0" x2="51.4" y2="568.0" stroke="#000" stroke-width="1.2"/><line x1="54.0" y1="565.0" x2="54.0" y2="568.0" stroke="#000" stroke-width="1.2"/><line x1="56.4" y1="565.0" x2="56.4" y2="570.0" stroke="#000" stroke-width="1.4"/><text x='52.2' y='575.3' font-family='Liberation Sans, sans-serif' font-weight='bold' font-size='7.2' fill='#000'>10</text><text x='59.7' y='570.5' font-family='Liberation Sans, sans-serif' font-weight='bold' font-size='4.8' fill='#000'>1</text><line x1="71.9" y1="565.0" x2="71.9" y2="568.0" stroke="#000" stroke-width="1.2"/><line x1="81.0" y1="565.0" x2="81.0" y2="568.0" stroke="#000" stroke-width="1.2"/><line x1="87.5" y1="565.0" x2="87.5" y2="568.0" stroke="#000" stroke-width="1.2"/><line x1="92.5" y1="565.0" x2="92.5" y2="568.0" stroke="#000" stroke-width="1.2"/><line x1="96.6" y1="565.0" x2="96.6" y2="568.0" stroke="#000" stroke-width="1.2"/><line x1="100.0" y1="565.0" x2="100.0" y2="568.0" stroke="#000" stroke-width="1.2"/><line x1="103.0" y1="565.0" x2="103.0" y2="568.0" stroke="#000" stroke-width="1.2"/><line x1="105.6" y1="565.0" x2="105.6" y2="568.0" stroke="#000" stroke-width="1.2"/><line x1="108.0" y1="565.0" x2="108.0" y2="570.0" stroke="#000" stroke-width="1.4"/><text x='103.8' y='575.3' font-family='Liberation Sans, sans-serif' font-weight='bold' font-size='7.2' fill='#000'>10</text><text x='111.3' y='570.5' font-family='Liberation Sans, sans-serif' font-weight='bold' font-size='4.8' fill='#000'>2</text><line x1="123.5" y1="565.0" x2="123.5" y2="568.0" stroke="#000" stroke-width="1.2"/><line x1="132.6" y1="565.0" x2="132.6" y2="568.0" stroke="#000" stroke-width="1.2"/><line x1="139.1" y1="565.0" x2="139.1" y2="568.0" stroke="#000" stroke-width="1.2"/><line x1="144.1" y1="565.0" x2="144.1" y2="568.0" stroke="#000" stroke-width="1.2"/><line x1="148.2" y1="565.0" x2="148.2" y2="568.0" stroke="#000" stroke-width="1.2"/><line x1="151.6" y1="565.0" x2="151.6" y2="568.0" stroke="#000" stroke-width="1.2"/><line x1="154.6" y1="565.0" x2="154.6" y2="568.0" stroke="#000" stroke-width="1.2"/><line x1="157.2" y1="565.0" x2="157.2" y2="568.0" stroke="#000" stroke-width="1.2"/><line x1="159.6" y1="565.0" x2="159.6" y2="570.0" stroke="#000" stroke-width="1.4"/><text x='155.4' y='575.3' font-family='Liberation Sans, sans-serif' font-weight='bold' font-size='7.2' fill='#000'>10</text><text x='162.9' y='570.5' font-family='Liberation Sans, sans-serif' font-weight='bold' font-size='4.8' fill='#000'>3</text><line x1="175.1" y1="565.0" x2="175.1" y2="568.0" stroke="#000" stroke-width="1.2"/><line x1="184.2" y1="565.0" x2="184.2" y2="568.0" stroke="#000" stroke-width="1.2"/><line x1="190.7" y1="565.0" x2="190.7" y2="568.0" stroke="#000" stroke-width="1.2"/><line x1="195.7" y1="565.0" x2="195.7" y2="568.0" stroke="#000" stroke-width="1.2"/><line x1="199.8" y1="565.0" x2="199.8" y2="568.0" stroke="#000" stroke-width="1.2"/><line x1="203.2" y1="565.0" x2="203.2" y2="568.0" stroke="#000" stroke-width="1.2"/><line x1="206.2" y1="565.0" x2="206.2" y2="568.0" stroke="#000" stroke-width="1.2"/><line x1="208.8" y1="565.0" x2="208.8" y2="568.0" stroke="#000" stroke-width="1.2"/><line x1="211.2" y1="565.0" x2="211.2" y2="570.0" stroke="#000" stroke-width="1.4"/><text x='207.0' y='575.3' font-family='Liberation Sans, sans-serif' font-weight='bold' font-size='7.2' fill='#000'>10</text><text x='214.5' y='570.5' font-family='Liberation Sans, sans-serif' font-weight='bold' font-size='4.8' fill='#000'>4</text><line x1="25" y1="400.5" x2="184" y2="400.5" stroke="#000" stroke-width="2.2"/><polygon points="182,396.4 192.6,400.5 182,404.6" fill="#000"/><line x1="25" y1="582.2" x2="184" y2="582.2" stroke="#000" stroke-width="2.2"/><polygon points="182,578.1 192.6,582.2 182,586.3000000000001" fill="#000"/><text transform='translate(2.3,19.6) scale(1.04,1)' font-family='Liberation Sans, sans-serif' font-weight='bold' font-size='25' fill='#000'>A</text><text transform='translate(0.9,440.4) scale(0.93,1)' font-family='Liberation Sans, sans-serif' font-weight='bold' font-size='25' fill='#000'>B</text><text transform='translate(276.6,20.2) scale(0.95,1)' font-family='Liberation Sans, sans-serif' font-weight='bold' font-size='25' fill='#000'>C</text><line x1="391.0" y1="61.5" x2="391.0" y2="55.4" stroke="#000" stroke-width="1.5"/><line x1="387.0" y1="55.4" x2="395.0" y2="55.4" stroke="#000" stroke-width="1.5"/><rect x="381.25" y="62.25" width="19.50" height="196.55" fill="#000" stroke="#000" stroke-width="1.5"/><line x1="416.8" y1="71.8" x2="416.8" y2="55.4" stroke="#000" stroke-width="1.5"/><line x1="412.8" y1="55.4" x2="420.8" y2="55.4" stroke="#000" stroke-width="1.5"/><rect x="407.25" y="72.55" width="19.00" height="186.25" fill="url(#hatch)" stroke="#000" stroke-width="1.5"/><line x1="442.4" y1="137.4" x2="442.4" y2="135.4" stroke="#000" stroke-width="1.5"/><line x1="438.4" y1="135.4" x2="446.4" y2="135.4" stroke="#000" stroke-width="1.5"/><rect x="432.75" y="138.15" width="19.30" height="120.65" fill="#828282" stroke="#000" stroke-width="1.5"/><line x1="467.8" y1="184.3" x2="467.8" y2="175.4" stroke="#000" stroke-width="1.5"/><line x1="463.8" y1="175.4" x2="471.8" y2="175.4" stroke="#000" stroke-width="1.5"/><rect x="458.25" y="185.05" width="19.00" height="73.75" fill="#828282" stroke="#000" stroke-width="1.5"/><line x1="493.5" y1="216.5" x2="493.5" y2="212.3" stroke="#000" stroke-width="1.5"/><line x1="489.5" y1="212.3" x2="497.5" y2="212.3" stroke="#000" stroke-width="1.5"/><rect x="484.25" y="217.25" width="18.50" height="41.55" fill="#828282" stroke="#000" stroke-width="1.5"/><path d="M345.2,27.6 H513.4 V258.8 H345.2 Z" fill="none" stroke="#000" stroke-width="1.5"/><line x1="341.2" y1="27.6" x2="345.2" y2="27.6" stroke="#000" stroke-width="1.5"/><text x='334.2' y='32.9' text-anchor='end' font-family='Liberation Sans, sans-serif' font-size='14' fill='#000'>250</text><line x1="341.2" y1="73.84" x2="345.2" y2="73.84" stroke="#000" stroke-width="1.5"/><text x='334.2' y='79.1' text-anchor='end' font-family='Liberation Sans, sans-serif' font-size='14' fill='#000'>200</text><line x1="341.2" y1="120.08000000000001" x2="345.2" y2="120.08000000000001" stroke="#000" stroke-width="1.5"/><text x='334.2' y='125.4' text-anchor='end' font-family='Liberation Sans, sans-serif' font-size='14' fill='#000'>150</text><line x1="341.2" y1="166.32" x2="345.2" y2="166.32" stroke="#000" stroke-width="1.5"/><text x='334.2' y='171.6' text-anchor='end' font-family='Liberation Sans, sans-serif' font-size='14' fill='#000'>100</text><line x1="341.2" y1="212.56" x2="345.2" y2="212.56" stroke="#000" stroke-width="1.5"/><text x='334.2' y='217.9' text-anchor='end' font-family='Liberation Sans, sans-serif' font-size='14' fill='#000'>50</text><line x1="341.2" y1="258.8" x2="345.2" y2="258.8" stroke="#000" stroke-width="1.5"/><text x='334.2' y='264.1' text-anchor='end' font-family='Liberation Sans, sans-serif' font-size='14' fill='#000'>0</text><line x1="389.6" y1="336.9" x2="389.6" y2="332.6" stroke="#000" stroke-width="1.5"/><line x1="385.6" y1="332.6" x2="393.6" y2="332.6" stroke="#000" stroke-width="1.5"/><rect x="379.95" y="337.65" width="19.30" height="175.65" fill="#000" stroke="#000" stroke-width="1.5"/><line x1="416.3" y1="334.9" x2="416.3" y2="323.1" stroke="#000" stroke-width="1.5"/><line x1="412.3" y1="323.1" x2="420.3" y2="323.1" stroke="#000" stroke-width="1.5"/><rect x="406.45" y="335.65" width="19.70" height="177.65" fill="url(#hatch)" stroke="#000" stroke-width="1.5"/><line x1="443.1" y1="355.4" x2="443.1" y2="331.5" stroke="#000" stroke-width="1.5"/><line x1="439.1" y1="331.5" x2="447.1" y2="331.5" stroke="#000" stroke-width="1.5"/><rect x="433.55" y="356.15" width="19.20" height="157.15" fill="#828282" stroke="#000" stroke-width="1.5"/><line x1="469.9" y1="361.5" x2="469.9" y2="356.2" stroke="#000" stroke-width="1.5"/><line x1="465.9" y1="356.2" x2="473.9" y2="356.2" stroke="#000" stroke-width="1.5"/><rect x="460.45" y="362.25" width="18.80" height="151.05" fill="#828282" stroke="#000" stroke-width="1.5"/><line x1="496.4" y1="369.7" x2="496.4" y2="356.2" stroke="#000" stroke-width="1.5"/><line x1="492.4" y1="356.2" x2="500.4" y2="356.2" stroke="#000" stroke-width="1.5"/><rect x="486.95" y="370.45" width="18.80" height="142.85" fill="#828282" stroke="#000" stroke-width="1.5"/><path d="M342.8,282.0 H517.5 V513.3 H342.8 Z" fill="none" stroke="#000" stroke-width="1.5"/><line x1="338.0" y1="282.0" x2="342.8" y2="282.0" stroke="#000" stroke-width="1.5"/><text x='332.0' y='287.3' text-anchor='end' font-family='Liberation Sans, sans-serif' font-size='14' fill='#000'>40</text><line x1="338.0" y1="339.83" x2="342.8" y2="339.83" stroke="#000" stroke-width="1.5"/><text x='332.0' y='345.1' text-anchor='end' font-family='Liberation Sans, sans-serif' font-size='14' fill='#000'>30</text><line x1="338.0" y1="397.65999999999997" x2="342.8" y2="397.65999999999997" stroke="#000" stroke-width="1.5"/><text x='332.0' y='403.0' text-anchor='end' font-family='Liberation Sans, sans-serif' font-size='14' fill='#000'>20</text><line x1="338.0" y1="455.49" x2="342.8" y2="455.49" stroke="#000" stroke-width="1.5"/><text x='332.0' y='460.8' text-anchor='end' font-family='Liberation Sans, sans-serif' font-size='14' fill='#000'>10</text><line x1="338.0" y1="513.3199999999999" x2="342.8" y2="513.3199999999999" stroke="#000" stroke-width="1.5"/><text x='332.0' y='518.6' text-anchor='end' font-family='Liberation Sans, sans-serif' font-size='14' fill='#000'>0</text><path d="M430.8,120.8 V114.6 H506.2 V120.8" fill="none" stroke="#8a8a8a" stroke-width="1.3"/><path d="M468.00,105.00L468.00,101.00M468.00,105.00L471.80,103.76M468.00,105.00L470.35,108.24M468.00,105.00L465.65,108.24M468.00,105.00L464.20,103.76" stroke="#000" stroke-width="1.9" fill="none"/><text transform='translate(292.3,207.2) rotate(-90) skewX(-4.5)' font-family='Liberation Sans, sans-serif' font-size='20.3' fill='#000'>IL-12p70</text><text transform='translate(292.3,121.43) rotate(-90)' font-family='Liberation Sans, sans-serif' font-size='20.3' fill='#000'>pg/mL</text><text transform='translate(292.5,437.4) rotate(-90) skewX(-4.5)' font-family='Liberation Sans, sans-serif' font-size='20.3' fill='#000'>IL-6</text><text transform='translate(292.5,396.78) rotate(-90)' font-family='Liberation Sans, sans-serif' font-size='20.3' fill='#000'>ng/mL</text><text x='238' y='537.2' font-family='Liberation Sans, sans-serif' font-size='18.5' fill='#000'>LPS 0.3μg/mL</text><text x='238' y='562' font-family='Liberation Sans, sans-serif' font-size='18.5' fill='#000'>DMSO</text><text x='238' y='586.5' font-family='Liberation Sans, sans-serif' font-size='18.5' fill='#000'>NOR4 (μM)</text><path d="M359.7,531.0 H365.3" stroke="#000" stroke-width="2"/><path d="M385.8,531.0 H395.2 M390.5,526.1 V535.9" stroke="#000" stroke-width="2"/><path d="M412.6,531.0 H422.0 M417.3,526.1 V535.9" stroke="#000" stroke-width="2"/><path d="M439.5,531.0 H448.9 M444.2,526.1 V535.9" stroke="#000" stroke-width="2"/><path d="M465.3,531.0 H474.7 M470.0,526.1 V535.9" stroke="#000" stroke-width="2"/><path d="M492.1,531.0 H501.5 M496.8,526.1 V535.9" stroke="#000" stroke-width="2"/><path d="M359.7,556.0 H365.3" stroke="#000" stroke-width="2"/><path d="M387.7,556.0 H393.3" stroke="#000" stroke-width="2"/><path d="M412.6,556.0 H422.0 M417.3,551.1 V560.9" stroke="#000" stroke-width="2"/><path d="M441.4,556.0 H447.0" stroke="#000" stroke-width="2"/><path d="M467.2,556.0 H472.8" stroke="#000" stroke-width="2"/><path d="M494.0,556.0 H499.6" stroke="#000" stroke-width="2"/><path d="M359.7,580.5 H365.3" stroke="#000" stroke-width="2"/><path d="M387.7,580.5 H393.3" stroke="#000" stroke-width="2"/><path d="M414.5,580.5 H420.1" stroke="#000" stroke-width="2"/><text x='444.2' y='586.7' text-anchor='middle' font-family='Liberation Sans, sans-serif' font-size='15.5' fill='#000'>25</text><text x='470.0' y='586.7' text-anchor='middle' font-family='Liberation Sans, sans-serif' font-size='15.5' fill='#000'>50</text><text x='496.8' y='586.7' text-anchor='middle' font-family='Liberation Sans, sans-serif' font-size='15.5' fill='#000'>100</text></svg>
</body></html>
